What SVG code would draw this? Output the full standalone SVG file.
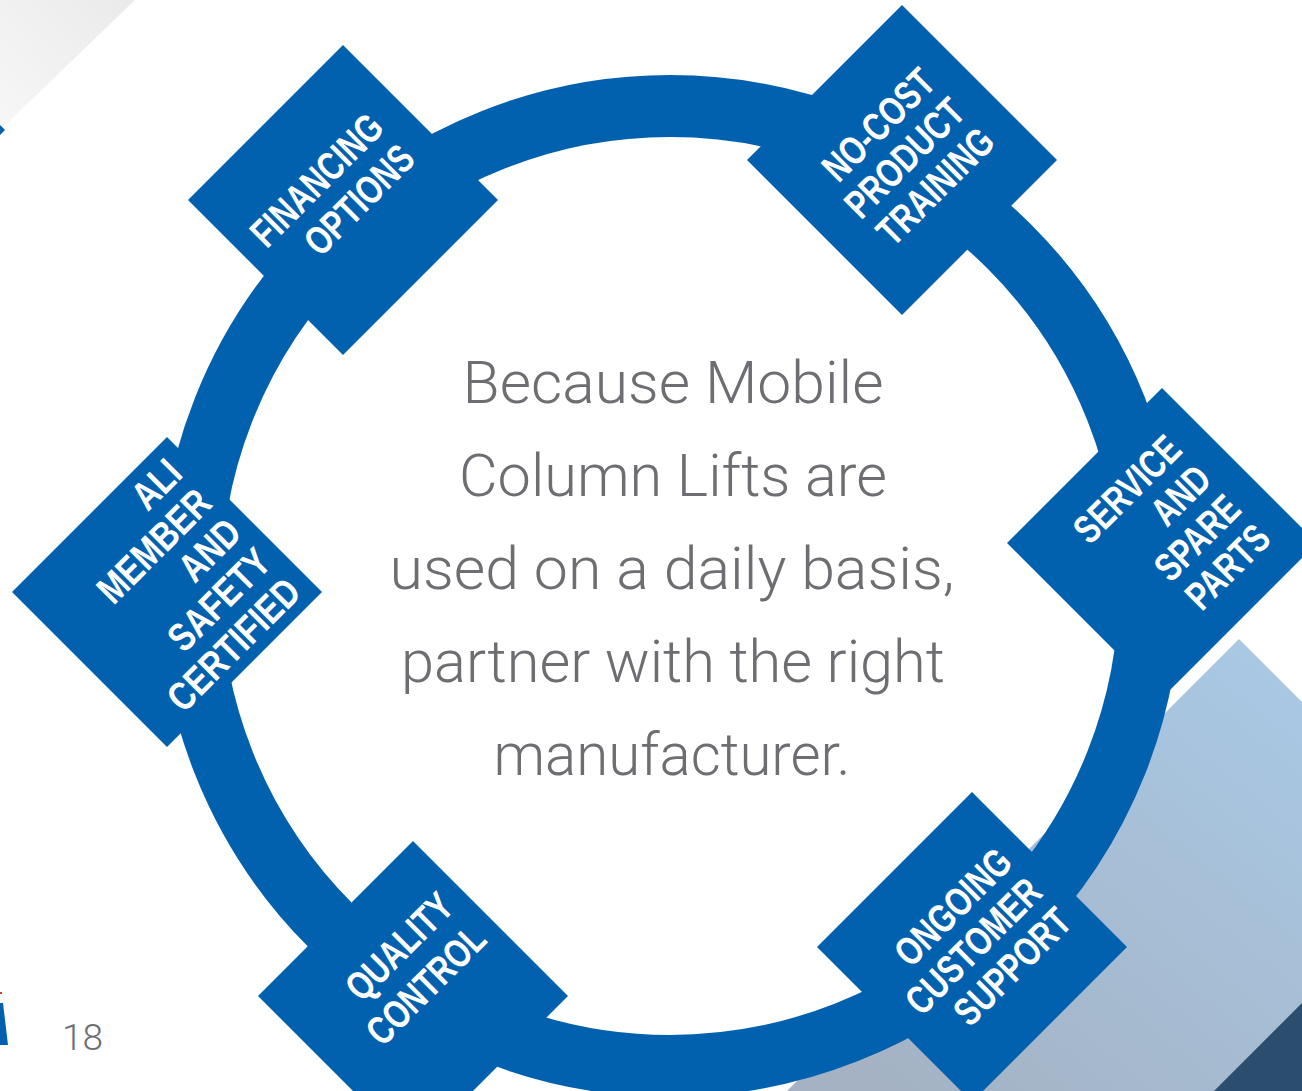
<svg xmlns="http://www.w3.org/2000/svg" width="1302" height="1091" viewBox="0 0 1302 1091">
  <defs>
    <linearGradient id="gTL" gradientUnits="userSpaceOnUse" x1="135" y1="0" x2="0" y2="130">
      <stop offset="0" stop-color="#eaeaea"/>
      <stop offset="1" stop-color="#f7f7f7"/>
    </linearGradient>
    <linearGradient id="gBR" gradientUnits="userSpaceOnUse" x1="1240" y1="640" x2="880" y2="1091">
      <stop offset="0" stop-color="#a9c8e4"/>
      <stop offset="1" stop-color="#a4b2c3"/>
    </linearGradient>
    <style>
      .dia { fill: #0261ae; }
      .lbl { fill: #ffffff; font-family: "Liberation Sans", Arial, sans-serif; font-weight: bold; font-size: 40px; text-anchor: end; }
      .body { fill: #6d6e71; font-family: "Roboto", "Liberation Sans", sans-serif; font-weight: 300; font-size: 60px; text-anchor: middle; }
      .pg { fill: #6d6e71; font-family: "Roboto", "Liberation Sans", sans-serif; font-weight: 300; font-size: 37px; }
    </style>
  </defs>
  <rect width="1302" height="1091" fill="#ffffff"/>
  <!-- background shapes -->
  <polygon points="0,0 135,0 0,130" fill="url(#gTL)"/>
  <polygon points="0,125 5,130 0,135" fill="#0261ae"/>
  <polygon points="0,1003 3,1003 8,1045 0,1045" fill="#0261ae"/>
  <rect x="0" y="992" width="2" height="2" fill="#e0402a"/>
  <polygon points="1239,639 1302,702 1302,1091 787,1091" fill="url(#gBR)"/>
  <polygon points="1302,1003 1302,1091 1214,1091" fill="#2b4d6e"/>

  <g id="connectors">
    <circle cx="670" cy="586" r="480" fill="none" stroke="#0261ae" stroke-width="62"/>
  </g>

  <g id="center-text">
    <text class="body" x="673" y="403" textLength="421" lengthAdjust="spacingAndGlyphs">Because Mobile</text>
    <text class="body" x="673" y="496" textLength="428" lengthAdjust="spacingAndGlyphs">Column Lifts are</text>
    <text class="body" x="672" y="589" textLength="565" lengthAdjust="spacingAndGlyphs">used on a daily basis,</text>
    <text class="body" x="673" y="682" textLength="544" lengthAdjust="spacingAndGlyphs">partner with the right</text>
    <text class="body" x="672" y="775" textLength="357" lengthAdjust="spacingAndGlyphs">manufacturer.</text>
  </g>

  <g id="node-financing" transform="translate(343,200)">
    <polygon class="dia" points="0,-155 155,0 0,155 -155,0"/>
    <g transform="rotate(-45) scale(0.76,1)">
      <text class="lbl" x="105" y="-19">FINANCING</text>
      <text class="lbl" x="105" y="25">OPTIONS</text>
    </g>
  </g>

  <g id="node-training" transform="translate(902,160)">
    <polygon class="dia" points="0,-155 155,0 0,155 -155,0"/>
    <g transform="rotate(-45) scale(0.76,1)">
      <text class="lbl" x="103" y="-28">NO-COST</text>
      <text class="lbl" x="103" y="14">PRODUCT</text>
      <text class="lbl" x="103" y="56">TRAINING</text>
    </g>
  </g>

  <g id="node-ali" transform="translate(167,592)">
    <polygon class="dia" points="0,-155 155,0 0,155 -155,0"/>
    <g transform="rotate(-45) scale(0.8,1)">
      <text class="lbl" x="118" y="-70">ALI</text>
      <text class="lbl" x="118" y="-28">MEMBER</text>
      <text class="lbl" x="118" y="14">AND</text>
      <text class="lbl" x="118" y="56">SAFETY</text>
      <text class="lbl" x="118" y="98">CERTIFIED</text>
    </g>
  </g>

  <g id="node-service" transform="translate(1162,543)">
    <polygon class="dia" points="0,-155 155,0 0,155 -155,0"/>
    <g transform="rotate(-45) scale(0.76,1)">
      <text class="lbl" x="105" y="-49">SERVICE</text>
      <text class="lbl" x="105" y="-7">AND</text>
      <text class="lbl" x="105" y="35">SPARE</text>
      <text class="lbl" x="105" y="77">PARTS</text>
    </g>
  </g>

  <g id="node-quality" transform="translate(413,996)">
    <polygon class="dia" points="0,-155 155,0 0,155 -155,0"/>
    <g transform="rotate(-45) scale(0.76,1)">
      <text class="lbl" x="121" y="-31">QUALITY</text>
      <text class="lbl" x="121" y="15">CONTROL</text>
    </g>
  </g>

  <g id="node-support" transform="translate(972,947)">
    <polygon class="dia" points="0,-155 155,0 0,155 -155,0"/>
    <g transform="rotate(-45) scale(0.76,1)">
      <text class="lbl" x="116" y="-28">ONGOING</text>
      <text class="lbl" x="116" y="14">CUSTOMER</text>
      <text class="lbl" x="116" y="56">SUPPORT</text>
    </g>
  </g>

  <text class="pg" x="62" y="1050">18</text>
</svg>
